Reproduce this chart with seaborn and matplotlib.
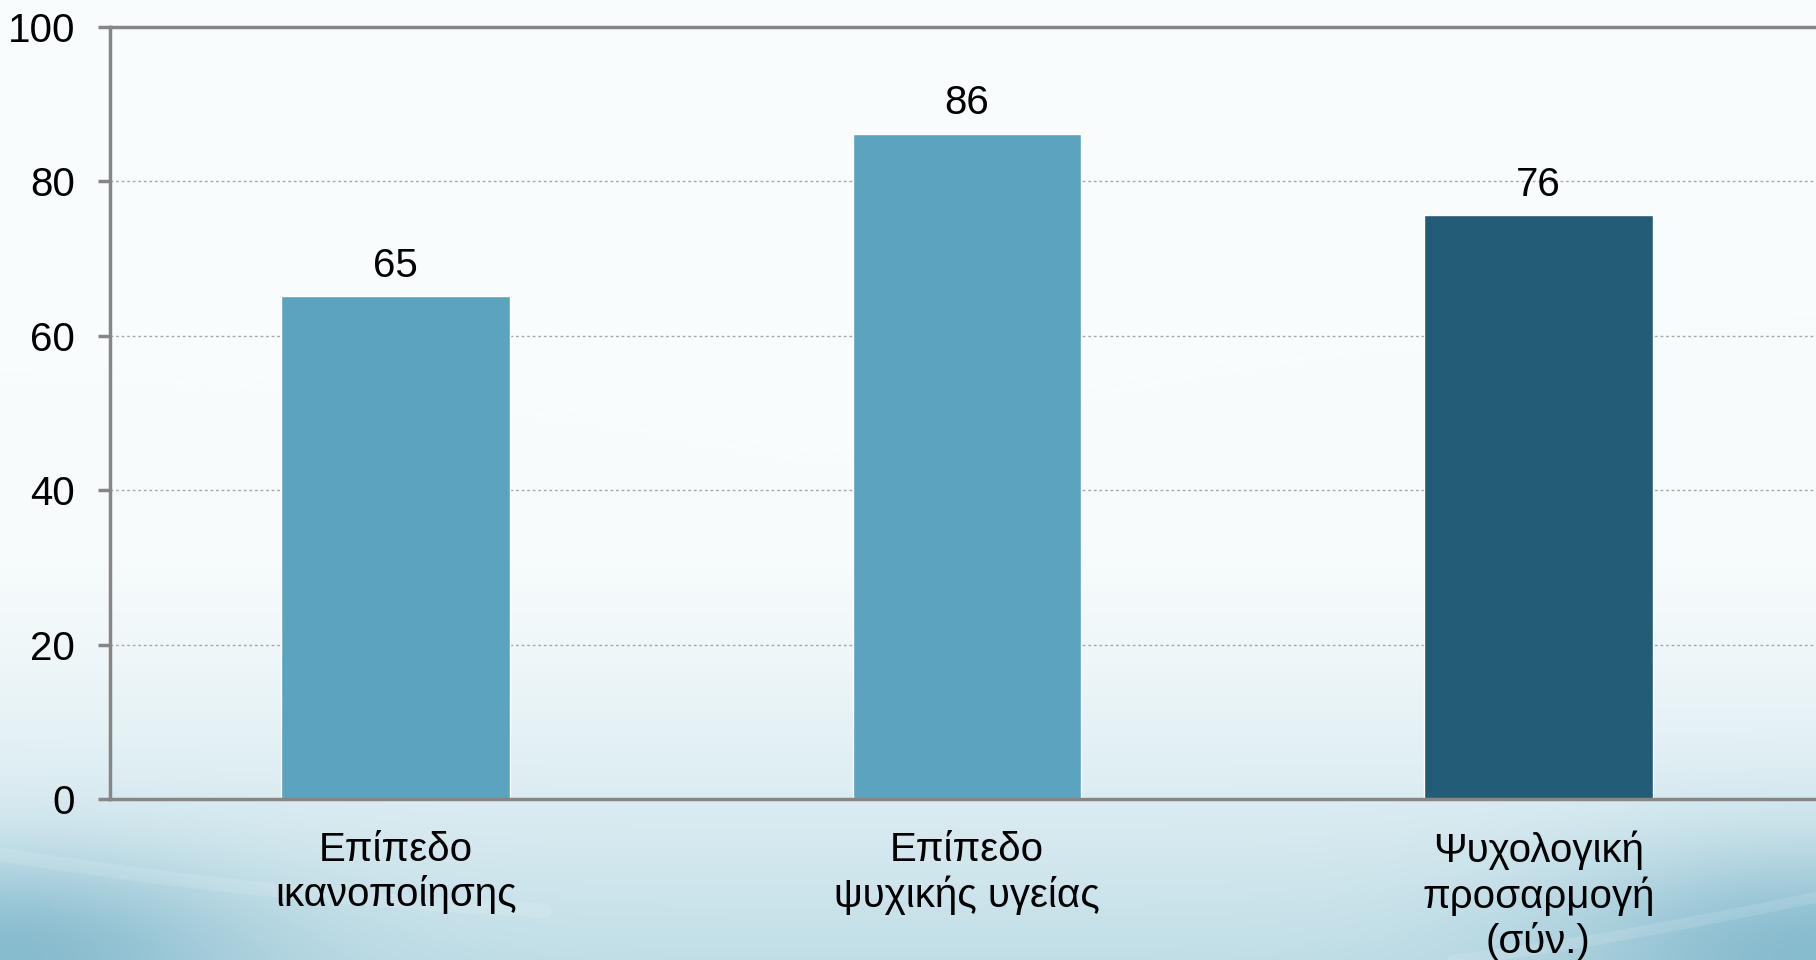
import numpy as np
import pandas as pd
import matplotlib
matplotlib.use("Agg")
import matplotlib.pyplot as plt
import seaborn as sns

##----------- Data --------------##
categories = ["Επίπεδο\nικανοποίησης", "Επίπεδο\nψυχικής υγείας", "Ψυχολογική\nπροσαρμογή\n(σύν.)"]
values = [65.2, 86.2, 75.6]
bar_colors = ["#5BA3BE", "#5BA3BE", "#235C77"]
y_ticks = [0, 20, 40, 60, 80, 100]

##----------- Style --------------##
sns.set_theme(style="white")
plt.rcParams["font.family"] = ["Liberation Sans", "DejaVu Sans"]
grey = "#868686"
fsize = 29

fig = plt.figure(figsize=(18.16, 9.6), dpi=100)

# slide-like background: white on top, fading to light blue at the bottom
bg = fig.add_axes([0, 0, 1, 1], zorder=-1)
H, W = 480, 908
yy = np.linspace(0, 1, H)[:, None]
xx = np.linspace(0, 1, W)[None, :]
top = np.array([248, 252, 253]) / 255
bot = np.array([193, 222, 231]) / 255
corner = np.array([135, 187, 206]) / 255
t = np.clip((yy - 0.55) / 0.45, 0, 1) ** 1.4
img = top * (1 - t[..., None]) + bot * t[..., None]
img = np.broadcast_to(img, (H, W, 3)).copy()
c = np.exp(-(xx ** 2) / 0.02 - (1 - yy) ** 2 / 0.01) + np.exp(-((1 - xx) ** 2) / 0.02 - (1 - yy) ** 2 / 0.012)
c = np.clip(c, 0, 1)[..., None]
img = img * (1 - c) + corner * c
bg.imshow(img, aspect="auto", extent=[0, 1, 0, 1], origin="upper")
# faint swooshes
sx = np.linspace(0, 0.3, 50)
bg.plot(sx, 0.11 - 0.3 * sx + 0.35 * sx ** 2, color="white", alpha=0.12, lw=10)
sx2 = np.linspace(0.8, 1, 50)
bg.plot(sx2, 0.45 * (sx2 - 0.8) ** 1.2, color="white", alpha=0.12, lw=8)
bg.set_xlim(0, 1)
bg.set_ylim(0, 1)
bg.axis("off")

##----------- Chart --------------##
ax = fig.add_axes([110 / 1816, 1 - 799 / 960, (1824 - 110) / 1816, (799 - 27) / 960])
ax.patch.set_alpha(0)

data = pd.DataFrame({"category": categories, "value": values})
sns.barplot(data=data, x="category", y="value", hue="category", palette=bar_colors,
            legend=False, width=0.4, saturation=1, ax=ax)

for container in ax.containers:
    ax.bar_label(container, labels=[f"{v:.0f}" for v in container.datavalues],
                 padding=8, fontsize=fsize, color="black")

ax.set_xlim(-0.5, 2.5)
ax.set_ylim(0, 100)
ax.set_yticks(y_ticks)
ax.set_xlabel("")
ax.set_ylabel("")

ax.yaxis.grid(True, linestyle=(0, (2, 2)), color="#A8A8A8", linewidth=1)
ax.set_axisbelow(True)

for side in ["left", "bottom", "top"]:
    ax.spines[side].set_visible(True)
    ax.spines[side].set_color(grey)
    ax.spines[side].set_linewidth(2.5)
ax.spines["right"].set_visible(False)

ax.tick_params(axis="y", which="major", left=True, length=8.6, width=2.5, color=grey,
               direction="out", pad=16.5, labelsize=fsize, labelcolor="black")
ax.tick_params(axis="x", which="major", bottom=False, length=0, pad=23,
               labelsize=fsize, labelcolor="black")

plt.savefig("out.png", dpi=100)
plt.close()
